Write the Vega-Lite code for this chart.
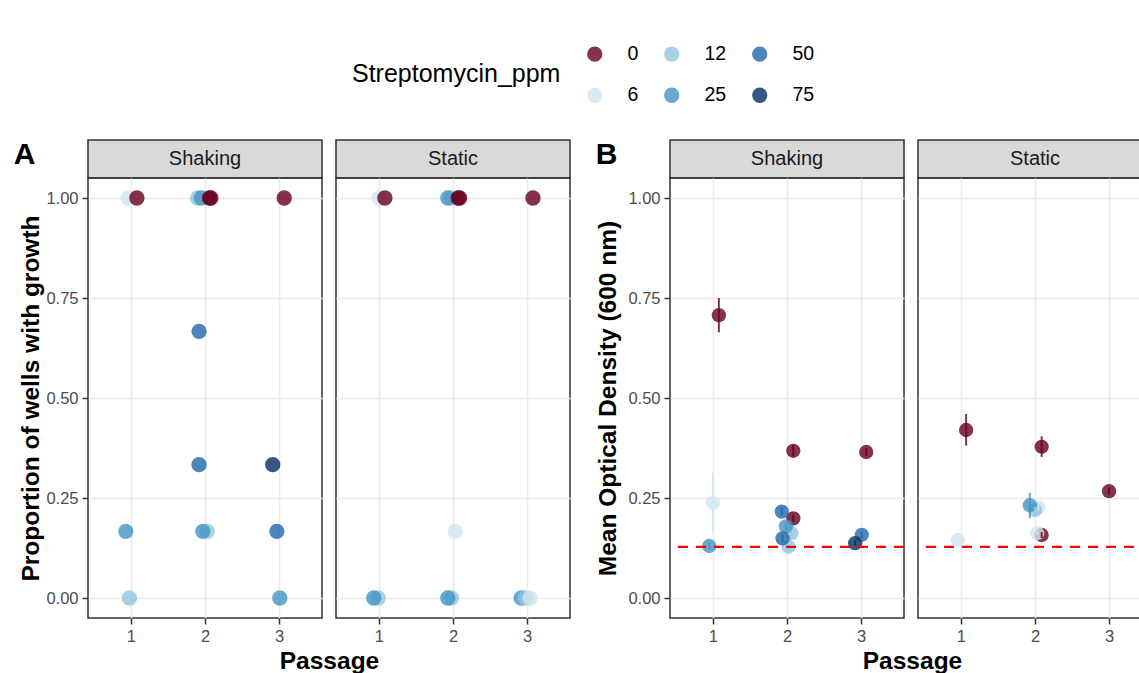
{
  "$schema": "https://vega.github.io/schema/vega-lite/v6.json",
  "background": "#FFFFFF",
  "padding": {"left": 12, "top": 44, "right": 0, "bottom": 0},
  "config": {
    "font": "Liberation Sans",
    "view": {"stroke": "#333333", "strokeWidth": 1.5},
    "axis": {
      "domain": false,
      "gridColor": "#EBEBEB",
      "gridWidth": 1.6,
      "tickColor": "#333333",
      "tickSize": 6,
      "tickWidth": 1.5,
      "labelColor": "#4D4D4D",
      "labelFontSize": 16.5,
      "labelPadding": 4,
      "labelFont": "Liberation Sans",
      "titleFont": "Liberation Sans",
      "titleFontSize": 24.5,
      "titleFontWeight": "bold",
      "titleColor": "#000000",
      "titlePadding": 5
    }
  },
  "datasets": {
    "strips": [{"Condition": "Shaking"}, {"Condition": "Static"}],
    "blank": [{"label": ""}],
    "cutoff": [{"OD_cutoff": 0.128}],
    "growth": [
      {"Condition": "Shaking", "Passage": 0.96, "Streptomycin_ppm": 6, "Proportion": 1},
      {"Condition": "Shaking", "Passage": 1.08, "Streptomycin_ppm": 0, "Proportion": 1},
      {"Condition": "Shaking", "Passage": 0.93, "Streptomycin_ppm": 25, "Proportion": 0.1667},
      {"Condition": "Shaking", "Passage": 0.98, "Streptomycin_ppm": 12, "Proportion": 0},
      {"Condition": "Shaking", "Passage": 1.9, "Streptomycin_ppm": 12, "Proportion": 1},
      {"Condition": "Shaking", "Passage": 1.95, "Streptomycin_ppm": 25, "Proportion": 1},
      {"Condition": "Shaking", "Passage": 2.06, "Streptomycin_ppm": 0, "Proportion": 1},
      {"Condition": "Shaking", "Passage": 2.08, "Streptomycin_ppm": 0, "Proportion": 1},
      {"Condition": "Shaking", "Passage": 1.92, "Streptomycin_ppm": 50, "Proportion": 0.6667},
      {"Condition": "Shaking", "Passage": 1.92, "Streptomycin_ppm": 50, "Proportion": 0.3333},
      {"Condition": "Shaking", "Passage": 2.03, "Streptomycin_ppm": 12, "Proportion": 0.1667},
      {"Condition": "Shaking", "Passage": 1.97, "Streptomycin_ppm": 25, "Proportion": 0.1667},
      {"Condition": "Shaking", "Passage": 3.07, "Streptomycin_ppm": 0, "Proportion": 1},
      {"Condition": "Shaking", "Passage": 2.915, "Streptomycin_ppm": 75, "Proportion": 0.3333},
      {"Condition": "Shaking", "Passage": 2.97, "Streptomycin_ppm": 50, "Proportion": 0.1667},
      {"Condition": "Shaking", "Passage": 3.01, "Streptomycin_ppm": 25, "Proportion": 0},
      {"Condition": "Static", "Passage": 1.0, "Streptomycin_ppm": 6, "Proportion": 1},
      {"Condition": "Static", "Passage": 1.08, "Streptomycin_ppm": 0, "Proportion": 1},
      {"Condition": "Static", "Passage": 0.99, "Streptomycin_ppm": 12, "Proportion": 0},
      {"Condition": "Static", "Passage": 0.93, "Streptomycin_ppm": 25, "Proportion": 0},
      {"Condition": "Static", "Passage": 1.97, "Streptomycin_ppm": 12, "Proportion": 1},
      {"Condition": "Static", "Passage": 1.93, "Streptomycin_ppm": 25, "Proportion": 1},
      {"Condition": "Static", "Passage": 2.07, "Streptomycin_ppm": 0, "Proportion": 1},
      {"Condition": "Static", "Passage": 2.09, "Streptomycin_ppm": 0, "Proportion": 1},
      {"Condition": "Static", "Passage": 2.03, "Streptomycin_ppm": 6, "Proportion": 0.1667},
      {"Condition": "Static", "Passage": 1.98, "Streptomycin_ppm": 12, "Proportion": 0},
      {"Condition": "Static", "Passage": 1.93, "Streptomycin_ppm": 25, "Proportion": 0},
      {"Condition": "Static", "Passage": 3.08, "Streptomycin_ppm": 0, "Proportion": 1},
      {"Condition": "Static", "Passage": 2.92, "Streptomycin_ppm": 25, "Proportion": 0},
      {"Condition": "Static", "Passage": 2.98, "Streptomycin_ppm": 12, "Proportion": 0},
      {"Condition": "Static", "Passage": 3.04, "Streptomycin_ppm": 6, "Proportion": 0}
    ],
    "od": [
      {"Condition": "Shaking", "Passage": 0.95, "Streptomycin_ppm": 25, "OD": 0.13, "OD_low": 0.122, "OD_high": 0.138},
      {"Condition": "Shaking", "Passage": 1.0, "Streptomycin_ppm": 6, "OD": 0.238, "OD_low": 0.1625, "OD_high": 0.3125},
      {"Condition": "Shaking", "Passage": 1.08, "Streptomycin_ppm": 0, "OD": 0.707, "OD_low": 0.664, "OD_high": 0.75},
      {"Condition": "Shaking", "Passage": 2.085, "Streptomycin_ppm": 0, "OD": 0.368, "OD_low": 0.354, "OD_high": 0.383},
      {"Condition": "Shaking", "Passage": 2.085, "Streptomycin_ppm": 0, "OD": 0.199, "OD_low": 0.19, "OD_high": 0.208},
      {"Condition": "Shaking", "Passage": 2.02, "Streptomycin_ppm": 12, "OD": 0.128, "OD_low": 0.121, "OD_high": 0.135},
      {"Condition": "Shaking", "Passage": 2.06, "Streptomycin_ppm": 12, "OD": 0.162, "OD_low": 0.154, "OD_high": 0.17},
      {"Condition": "Shaking", "Passage": 1.985, "Streptomycin_ppm": 25, "OD": 0.179, "OD_low": 0.17, "OD_high": 0.188},
      {"Condition": "Shaking", "Passage": 1.93, "Streptomycin_ppm": 50, "OD": 0.216, "OD_low": 0.206, "OD_high": 0.226},
      {"Condition": "Shaking", "Passage": 1.94, "Streptomycin_ppm": 50, "OD": 0.149, "OD_low": 0.14, "OD_high": 0.158},
      {"Condition": "Shaking", "Passage": 3.07, "Streptomycin_ppm": 0, "OD": 0.365, "OD_low": 0.355, "OD_high": 0.375},
      {"Condition": "Shaking", "Passage": 3.01, "Streptomycin_ppm": 50, "OD": 0.158, "OD_low": 0.15, "OD_high": 0.166},
      {"Condition": "Shaking", "Passage": 2.92, "Streptomycin_ppm": 75, "OD": 0.137, "OD_low": 0.13, "OD_high": 0.144},
      {"Condition": "Static", "Passage": 0.96, "Streptomycin_ppm": 6, "OD": 0.145, "OD_low": 0.14, "OD_high": 0.15},
      {"Condition": "Static", "Passage": 1.07, "Streptomycin_ppm": 0, "OD": 0.42, "OD_low": 0.381, "OD_high": 0.46},
      {"Condition": "Static", "Passage": 2.09, "Streptomycin_ppm": 0, "OD": 0.378, "OD_low": 0.3525, "OD_high": 0.404},
      {"Condition": "Static", "Passage": 2.09, "Streptomycin_ppm": 0, "OD": 0.1575, "OD_low": 0.15, "OD_high": 0.165},
      {"Condition": "Static", "Passage": 2.03, "Streptomycin_ppm": 6, "OD": 0.162, "OD_low": 0.157, "OD_high": 0.167},
      {"Condition": "Static", "Passage": 2.045, "Streptomycin_ppm": 6, "OD": 0.227, "OD_low": 0.22, "OD_high": 0.234},
      {"Condition": "Static", "Passage": 2.0, "Streptomycin_ppm": 12, "OD": 0.22, "OD_low": 0.212, "OD_high": 0.228},
      {"Condition": "Static", "Passage": 1.93, "Streptomycin_ppm": 25, "OD": 0.232, "OD_low": 0.199, "OD_high": 0.263},
      {"Condition": "Static", "Passage": 3.0, "Streptomycin_ppm": 0, "OD": 0.267, "OD_low": 0.258, "OD_high": 0.276}
    ]
  },
  "columns": 5,
  "bounds": "flush",
  "spacing": {"row": 0, "column": 14},
  "concat": [
    {
      "width": 234, "height": 38,
      "data": {"name": "strips"},
      "transform": [{"filter": "datum.Condition === 'Shaking'"}],
      "view": {"fill": "#D9D9D9", "stroke": "#333333", "strokeWidth": 1.5},
      "title": {"text": "A", "orient": "left", "angle": 0, "anchor": "end", "align": "right", "baseline": "top", "offset": 31, "fontSize": 30, "fontWeight": "bold", "color": "#000000"},
      "mark": {"type": "text", "fontSize": 20, "color": "#1A1A1A"},
      "encoding": {"text": {"field": "Condition", "type": "nominal"}}
    },
    {
      "width": 234, "height": 38,
      "data": {"name": "strips"},
      "transform": [{"filter": "datum.Condition === 'Static'"}],
      "view": {"fill": "#D9D9D9", "stroke": "#333333", "strokeWidth": 1.5},
      "mark": {"type": "text", "fontSize": 20, "color": "#1A1A1A"},
      "encoding": {"text": {"field": "Condition", "type": "nominal"}}
    },
    {
      "width": 72, "height": 38,
      "data": {"name": "blank"},
      "view": {"stroke": null},
      "mark": {"type": "text"},
      "encoding": {"text": {"field": "label", "type": "nominal"}}
    },
    {
      "width": 234, "height": 38,
      "data": {"name": "strips"},
      "transform": [{"filter": "datum.Condition === 'Shaking'"}],
      "view": {"fill": "#D9D9D9", "stroke": "#333333", "strokeWidth": 1.5},
      "title": {"text": "B", "orient": "left", "angle": 0, "anchor": "end", "align": "right", "baseline": "top", "offset": 31, "fontSize": 30, "fontWeight": "bold", "color": "#000000"},
      "mark": {"type": "text", "fontSize": 20, "color": "#1A1A1A"},
      "encoding": {"text": {"field": "Condition", "type": "nominal"}}
    },
    {
      "width": 234, "height": 38,
      "data": {"name": "strips"},
      "transform": [{"filter": "datum.Condition === 'Static'"}],
      "view": {"fill": "#D9D9D9", "stroke": "#333333", "strokeWidth": 1.5},
      "mark": {"type": "text", "fontSize": 20, "color": "#1A1A1A"},
      "encoding": {"text": {"field": "Condition", "type": "nominal"}}
    },
    {
      "width": 234, "height": 440,
      "data": {"name": "growth"},
      "transform": [{"filter": "datum.Condition === 'Shaking'"}],
      "layer": [
        {
          "mark": {"type": "point", "filled": true, "shape": "circle", "size": 235, "opacity": 0.8, "strokeWidth": 0},
          "encoding": {
            "x": {"field": "Passage", "type": "quantitative", "scale": {"domain": [0.42, 3.58], "nice": false, "zero": false}, "axis": {"values": [1, 2, 3], "format": "d", "title": "Passage", "titleX": 241}},
            "y": {"field": "Proportion", "type": "quantitative", "scale": {"domain": [-0.05, 1.05], "nice": false, "zero": false}, "axis": {"orient": "left", "values": [0, 0.25, 0.5, 0.75, 1], "format": ".2f", "title": "Proportion of wells with growth", "titlePadding": 2}},
            "color": {"field": "Streptomycin_ppm", "type": "nominal", "scale": {"domain": [0, 12, 50, 6, 25, 75], "range": ["#67001F", "#92C5DE", "#2166AC", "#D1E5F0", "#4393C3", "#053061"]},
              "legend": {"orient": "none", "legendX": 264, "legendY": -96, "direction": "horizontal", "columns": 3, "title": "Streptomycin_ppm", "titleLimit": 400, "titleOrient": "left", "titleAnchor": "middle", "titleBaseline": "middle", "titleFontSize": 25, "titleFontWeight": "normal", "titleColor": "#000000", "titlePadding": 24, "labelFontSize": 19.5, "labelColor": "#000000", "labelOffset": 23, "symbolType": "circle", "symbolSize": 235, "symbolOpacity": 0.8, "symbolStrokeWidth": 0, "rowPadding": 20.5, "columnPadding": 23, "gridAlign": "each", "padding": 0}}
          }
        },
        {
          "mark": {"type": "point", "opacity": 0},
          "encoding": {
            "x": {"field": "Passage", "type": "quantitative", "scale": {"domain": [0.42, 3.58], "nice": false, "zero": false}, "axis": {"values": [1, 2, 3], "format": "d", "title": "Passage", "titleX": 241}},
            "y": {"field": "Proportion", "type": "quantitative", "scale": {"domain": [-0.05, 1.05], "nice": false, "zero": false}, "axis": {"orient": "right", "values": [0.125, 0.375, 0.625, 0.875], "labels": false, "ticks": false, "title": null, "gridWidth": 0.8}}
          }
        }
      ],
      "resolve": {"axis": {"y": "independent"}}
    },
    {
      "width": 234, "height": 440,
      "data": {"name": "growth"},
      "transform": [{"filter": "datum.Condition === 'Static'"}],
      "layer": [
        {
          "mark": {"type": "point", "filled": true, "shape": "circle", "size": 235, "opacity": 0.8, "strokeWidth": 0},
          "encoding": {
            "x": {"field": "Passage", "type": "quantitative", "scale": {"domain": [0.42, 3.58], "nice": false, "zero": false}, "axis": {"values": [1, 2, 3], "format": "d", "title": null}},
            "y": {"field": "Proportion", "type": "quantitative", "scale": {"domain": [-0.05, 1.05], "nice": false, "zero": false}, "axis": {"orient": "left", "values": [0, 0.25, 0.5, 0.75, 1], "labels": false, "ticks": false, "title": null}},
            "color": {"field": "Streptomycin_ppm", "type": "nominal", "scale": {"domain": [0, 12, 50, 6, 25, 75], "range": ["#67001F", "#92C5DE", "#2166AC", "#D1E5F0", "#4393C3", "#053061"]}}
          }
        },
        {
          "mark": {"type": "point", "opacity": 0},
          "encoding": {
            "x": {"field": "Passage", "type": "quantitative", "scale": {"domain": [0.42, 3.58], "nice": false, "zero": false}, "axis": {"values": [1, 2, 3], "format": "d", "title": null}},
            "y": {"field": "Proportion", "type": "quantitative", "scale": {"domain": [-0.05, 1.05], "nice": false, "zero": false}, "axis": {"orient": "right", "values": [0.125, 0.375, 0.625, 0.875], "labels": false, "ticks": false, "title": null, "gridWidth": 0.8}}
          }
        }
      ],
      "resolve": {"axis": {"y": "independent"}}
    },
    {
      "width": 72, "height": 440,
      "data": {"name": "blank"},
      "view": {"stroke": null},
      "mark": {"type": "text"},
      "encoding": {"text": {"field": "label", "type": "nominal"}}
    },
    {
      "width": 234, "height": 440,
      "layer": [
        {
          "data": {"name": "od"},
          "transform": [{"filter": "datum.Condition === 'Shaking'"}],
          "mark": {"type": "point", "filled": true, "shape": "circle", "size": 205, "opacity": 0.8, "strokeWidth": 0},
          "encoding": {
            "x": {"field": "Passage", "type": "quantitative", "scale": {"domain": [0.42, 3.58], "nice": false, "zero": false}, "axis": {"values": [1, 2, 3], "format": "d", "title": "Passage", "titleX": 242}},
            "y": {"field": "OD", "type": "quantitative", "scale": {"domain": [-0.05, 1.05], "nice": false, "zero": false}, "axis": {"orient": "left", "values": [0, 0.25, 0.5, 0.75, 1], "format": ".2f", "title": "Mean Optical Density (600 nm)", "titlePadding": 7}},
            "color": {"field": "Streptomycin_ppm", "type": "nominal", "scale": {"domain": [0, 12, 50, 6, 25, 75], "range": ["#67001F", "#92C5DE", "#2166AC", "#D1E5F0", "#4393C3", "#053061"]}}
          }
        },
        {
          "data": {"name": "od"},
          "transform": [{"filter": "datum.Condition === 'Shaking'"}],
          "mark": {"type": "rule", "strokeWidth": 2, "opacity": 0.8},
          "encoding": {
            "x": {"field": "Passage", "type": "quantitative", "scale": {"domain": [0.42, 3.58], "nice": false, "zero": false}, "axis": {"values": [1, 2, 3], "format": "d", "title": "Passage", "titleX": 242}},
            "y": {"field": "OD_low", "type": "quantitative", "scale": {"domain": [-0.05, 1.05], "nice": false, "zero": false}, "axis": null},
            "y2": {"field": "OD_high"},
            "color": {"field": "Streptomycin_ppm", "type": "nominal", "scale": {"domain": [0, 12, 50, 6, 25, 75], "range": ["#67001F", "#92C5DE", "#2166AC", "#D1E5F0", "#4393C3", "#053061"]}}
          }
        },
        {
          "data": {"name": "cutoff"},
          "mark": {"type": "rule", "color": "#FF0000", "strokeDash": [10, 8], "strokeWidth": 2.2},
          "encoding": {
            "y": {"field": "OD_cutoff", "type": "quantitative", "scale": {"domain": [-0.05, 1.05], "nice": false, "zero": false}, "axis": null}
          }
        },
        {
          "data": {"name": "od"},
          "transform": [{"filter": "datum.Condition === 'Shaking'"}],
          "mark": {"type": "point", "opacity": 0},
          "encoding": {
            "x": {"field": "Passage", "type": "quantitative", "scale": {"domain": [0.42, 3.58], "nice": false, "zero": false}, "axis": {"values": [1, 2, 3], "format": "d", "title": "Passage", "titleX": 242}},
            "y": {"field": "OD", "type": "quantitative", "scale": {"domain": [-0.05, 1.05], "nice": false, "zero": false}, "axis": {"orient": "right", "values": [0.125, 0.375, 0.625, 0.875], "labels": false, "ticks": false, "title": null, "gridWidth": 0.8}}
          }
        }
      ],
      "resolve": {"axis": {"y": "independent"}}
    },
    {
      "width": 234, "height": 440,
      "layer": [
        {
          "data": {"name": "od"},
          "transform": [{"filter": "datum.Condition === 'Static'"}],
          "mark": {"type": "point", "filled": true, "shape": "circle", "size": 205, "opacity": 0.8, "strokeWidth": 0},
          "encoding": {
            "x": {"field": "Passage", "type": "quantitative", "scale": {"domain": [0.42, 3.58], "nice": false, "zero": false}, "axis": {"values": [1, 2, 3], "format": "d", "title": null}},
            "y": {"field": "OD", "type": "quantitative", "scale": {"domain": [-0.05, 1.05], "nice": false, "zero": false}, "axis": {"orient": "left", "values": [0, 0.25, 0.5, 0.75, 1], "labels": false, "ticks": false, "title": null}},
            "color": {"field": "Streptomycin_ppm", "type": "nominal", "scale": {"domain": [0, 12, 50, 6, 25, 75], "range": ["#67001F", "#92C5DE", "#2166AC", "#D1E5F0", "#4393C3", "#053061"]}}
          }
        },
        {
          "data": {"name": "od"},
          "transform": [{"filter": "datum.Condition === 'Static'"}],
          "mark": {"type": "rule", "strokeWidth": 2, "opacity": 0.8},
          "encoding": {
            "x": {"field": "Passage", "type": "quantitative", "scale": {"domain": [0.42, 3.58], "nice": false, "zero": false}, "axis": {"values": [1, 2, 3], "format": "d", "title": null}},
            "y": {"field": "OD_low", "type": "quantitative", "scale": {"domain": [-0.05, 1.05], "nice": false, "zero": false}, "axis": null},
            "y2": {"field": "OD_high"},
            "color": {"field": "Streptomycin_ppm", "type": "nominal", "scale": {"domain": [0, 12, 50, 6, 25, 75], "range": ["#67001F", "#92C5DE", "#2166AC", "#D1E5F0", "#4393C3", "#053061"]}}
          }
        },
        {
          "data": {"name": "cutoff"},
          "mark": {"type": "rule", "color": "#FF0000", "strokeDash": [10, 8], "strokeWidth": 2.2},
          "encoding": {
            "y": {"field": "OD_cutoff", "type": "quantitative", "scale": {"domain": [-0.05, 1.05], "nice": false, "zero": false}, "axis": null}
          }
        },
        {
          "data": {"name": "od"},
          "transform": [{"filter": "datum.Condition === 'Static'"}],
          "mark": {"type": "point", "opacity": 0},
          "encoding": {
            "x": {"field": "Passage", "type": "quantitative", "scale": {"domain": [0.42, 3.58], "nice": false, "zero": false}, "axis": {"values": [1, 2, 3], "format": "d", "title": null}},
            "y": {"field": "OD", "type": "quantitative", "scale": {"domain": [-0.05, 1.05], "nice": false, "zero": false}, "axis": {"orient": "right", "values": [0.125, 0.375, 0.625, 0.875], "labels": false, "ticks": false, "title": null, "gridWidth": 0.8}}
          }
        }
      ],
      "resolve": {"axis": {"y": "independent"}}
    }
  ]
}
